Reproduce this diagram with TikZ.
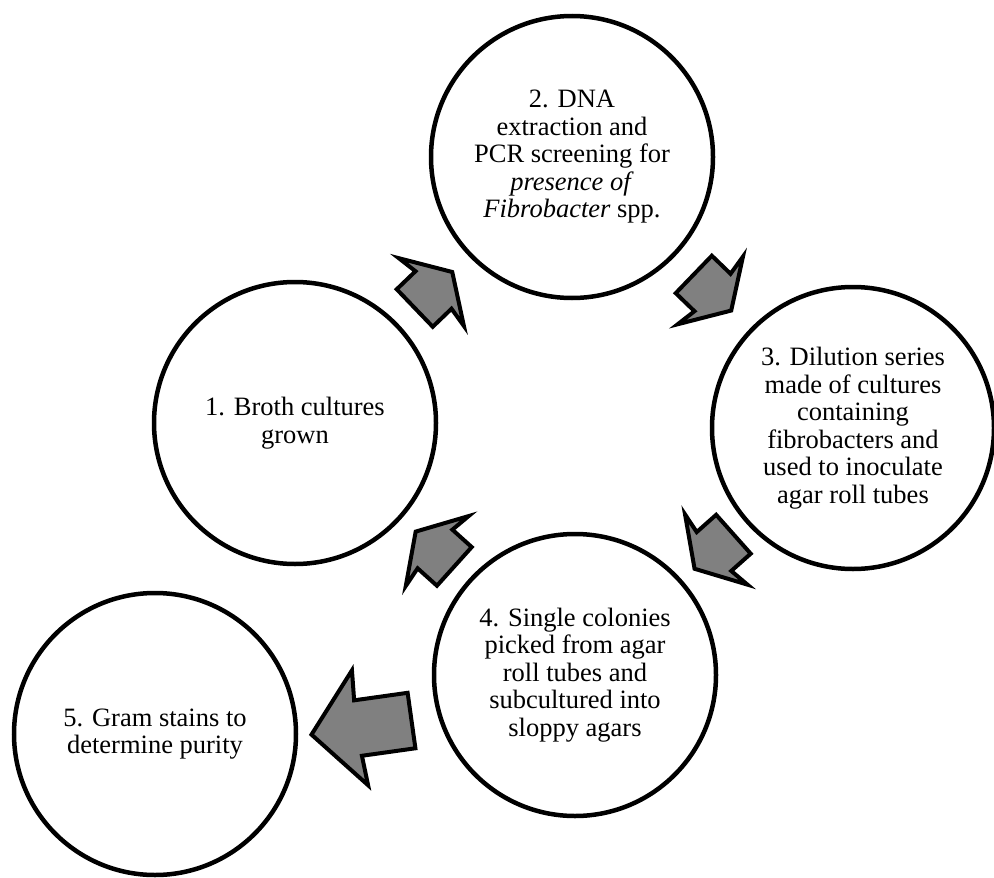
\documentclass[tikz,border=0pt]{standalone}
\usepackage{fontspec}
\setmainfont{Liberation Serif}
\usetikzlibrary{calc}
\tikzset{
  stage/.style={circle, draw=black, line width=4.5pt, minimum size=282pt, inner sep=0pt,
    align=center, font=\fontsize{26.5}{27.5}\selectfont},
  blockarr/.style={fill=black!50, draw=black, line width=4pt, line join=miter, miter limit=20},
}
\newcommand\smallarrow[2]{%
  \pgfmathanglebetweenpoints{\pgfpointanchor{#1}{center}}{\pgfpointanchor{#2}{center}}%
  \let\arrang\pgfmathresult
  \begin{scope}[shift={($(#1)!0.5!(#2)$)}, rotate=\arrang]
    \draw[blockarr] (-26,-26) -- (0,-26) -- (-3,-47) -- (26,0) -- (-3,47) -- (0,26) -- (-26,26) -- cycle;
  \end{scope}}
\newcommand\bigarrow[3]{%
  \pgfmathanglebetweenpoints{\pgfpointanchor{#1}{center}}{\pgfpointanchor{#2}{center}}%
  \let\arrang\pgfmathresult
  \begin{scope}[shift={($(#1)!0.5!(#2)+#3$)}, rotate=\arrang]
    \draw[blockarr] (-50,-28) -- (4,-28) -- (2,-58) -- (51,0) -- (2,58) -- (4,28) -- (-50,28) -- cycle;
  \end{scope}}
\begin{document}
\begin{tikzpicture}[x=1pt,y=-1pt]
\useasboundingbox (0,0) rectangle (994,878);
\node[stage] (s1) at (295,423) {1. Broth cultures\\grown};
\node[stage] (s2) at (572,157) {2. DNA\\extraction and\\PCR screening for\\\textit{presence of}\\\textit{Fibrobacter} spp.};
\node[stage] (s3) at (853,428) {3. Dilution series\\made of cultures\\containing\\fibrobacters and\\used to inoculate\\agar roll tubes};
\node[stage] (s4) at (575,675) {4. Single colonies\\picked from agar\\roll tubes and\\subcultured into\\sloppy agars};
\node[stage] (s5) at (155,734) {5. Gram stains to\\determine purity};
\smallarrow{s1}{s2}
\smallarrow{s2}{s3}
\smallarrow{s3}{s4}
\smallarrow{s4}{s1}
\bigarrow{s4}{s5}{(-3,23)}
\end{tikzpicture}
\end{document}
